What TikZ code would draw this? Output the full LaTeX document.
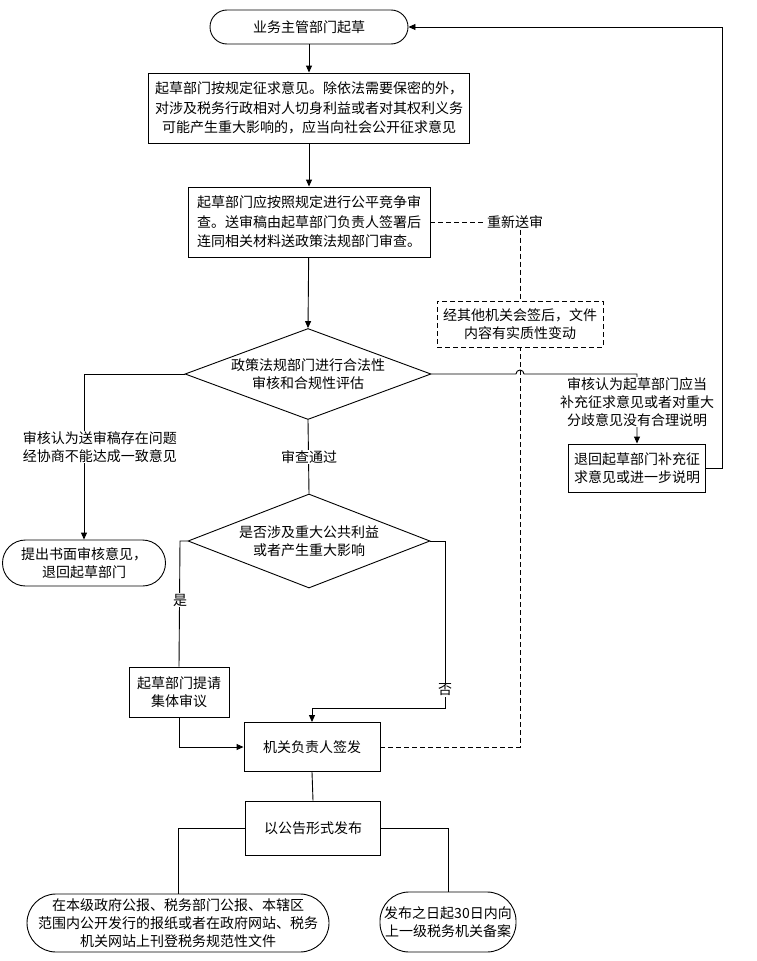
\documentclass[tikz,border=0pt]{standalone}
\usepackage{fontspec}
\setmainfont{Noto Sans CJK SC}
\usetikzlibrary{shapes.geometric,arrows.meta}
\begin{document}
\begin{tikzpicture}[x=1pt,y=-1pt,
  every node/.style={font=\fontsize{14}{19.5}\selectfont},
  base/.style={draw=black,line width=0.9pt,align=center,inner sep=1pt},
  box/.style={base,rectangle},
  term/.style={base,rectangle,rounded corners=#1},
  dia/.style={draw=black,line width=0.9pt,diamond,inner sep=0pt},
  dtext/.style={align=center,font=\fontsize{14}{18}\selectfont},
  lbl/.style={fill=white,inner sep=0.5pt,align=center,font=\fontsize{14}{18}\selectfont},
  conn/.style={line width=0.9pt},
  arr/.style={conn,-{Triangle[length=7pt,width=6pt]}},
  dsh/.style={conn,dash pattern=on 5pt off 3pt},
]
\fill[white] (0,0) rectangle (757,961);
\useasboundingbox (0,0) rectangle (757,961);

% nodes
\node[term=17pt,minimum width=198pt,minimum height=34pt] (start) at (309,27) {业务主管部门起草};
\node[box,minimum width=321pt,minimum height=70pt] (b1) at (309,108)
  {起草部门按规定征求意见。除依法需要保密的外，\\对涉及税务行政相对人切身利益或者对其权利义务\\可能产生重大影响的，应当向社会公开征求意见};
\node[box,minimum width=242pt,minimum height=70pt] (b2) at (309,222)
  {起草部门应按照规定进行公平竞争审\\查。送审稿由起草部门负责人签署后\\连同相关材料送政策法规部门审查。};
\node[inner sep=1pt] (retry) at (515,222) {重新送审};
\node[box,dash pattern=on 5pt off 3pt,minimum width=166pt,minimum height=46pt,font=\fontsize{14}{18}\selectfont] (db) at (520,324)
  {经其他机关会签后，文件\\内容有实质性变动};
\node[dia,minimum width=246pt,minimum height=91pt,
  label={[dtext]center:政策法规部门进行合法性\\审核和合规性评估}] (d1) at (308,374) {};
\node[term=23pt,minimum width=163pt,minimum height=46pt,font=\fontsize{14}{18}\selectfont] (tl) at (84,563)
  {提出书面审核意见，\\退回起草部门};
\node[box,minimum width=137pt,minimum height=48pt,font=\fontsize{14}{18}\selectfont] (rb) at (637,468)
  {退回起草部门补充征\\求意见或进一步说明};
\node[dia,minimum width=242pt,minimum height=94pt,
  label={[dtext]center:是否涉及重大公共利益\\或者产生重大影响}] (d2) at (309,541) {};
\node[box,minimum width=100pt,minimum height=50pt,font=\fontsize{14}{18}\selectfont] (jb) at (179,692)
  {起草部门提请\\集体审议};
\node[box,minimum width=136pt,minimum height=49pt] (sign) at (312,747) {机关负责人签发};
\node[box,minimum width=135pt,minimum height=54pt] (pub) at (313,828) {以公告形式发布};
\node[term=29pt,minimum width=302pt,minimum height=58pt,font=\fontsize{14}{18}\selectfont] (tb1) at (178,923)
  {在本级政府公报、税务部门公报、本辖区\\范围内公开发行的报纸或者在政府网站、税务\\机关网站上刊登税务规范性文件};
\node[term=29pt,minimum width=136pt,minimum height=60pt,font=\fontsize{14}{18}\selectfont] (tb2) at (448,922)
  {发布之日起30日内向\\上一级税务机关备案};

\coordinate (hop) at (520,374);
\coordinate (lx) at (84,374);
\coordinate (d2l) at (180,541);
\coordinate (d2r) at (445,541);
\coordinate (nob) at (445,708);
\coordinate (rx) at (722,468);
\coordinate (dx) at (520,747);

% connectors
\draw[arr] (start) -- (b1);
\draw[arr] (b1) -- (b2);
\draw[arr] (b2) -- (d1.north);
\draw[arr] (d1.west) -- (lx) -- (tl.north);
\draw[arr] (d1.east) -- ([xshift=-4pt]hop) arc[start angle=180,end angle=0,radius=4pt]
  -- (rb.north |- hop) -- (rb.north);
\draw[arr] (rb.east) -- (rx) |- (start.east);
\draw[conn] (d1.south) -- (d2.north);
\draw[conn] (d2.west) -- (d2l) -- (jb.north);
\draw[arr] (jb.south) |- (sign.west);
\draw[arr] (d2.east) -- (d2r) -- (nob) -| (sign.north);
\draw[dsh] (b2.east) -- (retry.west);
\draw[dsh] (retry.south -| db.north) -- (db.north);
\draw[dsh] (sign.east) -- (dx) -- (db.south);
\draw[conn] (sign.south) -- (pub.north);
\draw[conn] (pub.west) -| (tb1.north);
\draw[conn] (pub.east) -| (tb2.north);

% labels on lines
\node[lbl] (ll) at (100,447) {审核认为送审稿存在问题\\经协商不能达成一致意见};
\node[lbl] (rl) at (637,402) {审核认为起草部门应当\\补充征求意见或者对重大\\分歧意见没有合理说明};
\node[lbl] (pass) at (309,457) {审查通过};
\node[lbl] (yes) at (180,600) {是};
\node[lbl] (no) at (445,690) {否};
\end{tikzpicture}
\end{document}
